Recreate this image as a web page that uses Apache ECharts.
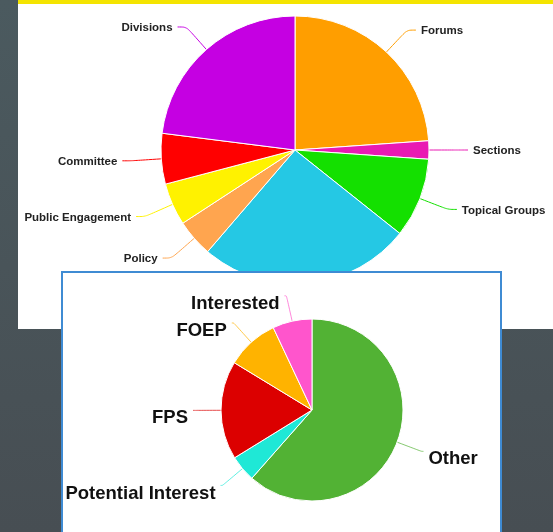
<!DOCTYPE html>
<html>
<head>
<meta charset="utf-8">
<script src="https://cdn.jsdelivr.net/npm/echarts@6/dist/echarts.min.js"></script>
<style>
  html, body { margin: 0; padding: 0; }
  body {
    width: 553px; height: 532px; overflow: hidden; position: relative;
    background: linear-gradient(to bottom, #4b5a5f, #474e53);
  }
  #topPanel {
    position: absolute; left: 18px; top: 0; width: 535px; height: 329px;
    background: #fff; border-top: 4px solid #f4e400; box-sizing: border-box;
  }
  #bottomPanel {
    position: absolute; left: 61px; top: 271px; width: 441px; height: 270px;
    background: #fff; border: 2px solid #3f8bd3; box-sizing: border-box;
  }
  .chart { width: 100%; height: 100%; }
</style>
</head>
<body>
<div id="topPanel"><div class="chart" id="unitsChart"></div></div>
<div id="bottomPanel"><div class="chart" id="membersChart"></div></div>
<script>
// top pie: unit types
var unitNames = ['Forums', 'Sections', 'Topical Groups', 'Other Units', 'Policy', 'Public Engagement', 'Committee', 'Divisions'];
var unitValues = [23.9, 2.2, 9.6, 25.6, 4.5, 5.1, 6.1, 23.0];
var unitColors = ['#ff9e00', '#e91ab3', '#14e000', '#25c8e4', '#ffa54f', '#fff200', '#ff0000', '#c500e2'];

// bottom pie: membership interest
var memberNames = ['Other', 'Potential Interest', 'FPS', 'FOEP', 'Interested'];
var memberValues = [61.5, 4.7, 17.5, 9.3, 7.0];
var memberColors = ['#52b234', '#1fe8d6', '#dc0000', '#ffb300', '#ff55cc'];

function buildData(names, values) {
  return names.map(function (n, i) { return { name: n, value: values[i] }; });
}

var unitsChart = echarts.init(document.getElementById('unitsChart'));
unitsChart.setOption({
  animation: false,
  color: unitColors,
  series: [{
    type: 'pie',
    startAngle: 90,
    clockwise: true,
    center: [277, 146],
    radius: 134,
    itemStyle: { borderColor: '#fff', borderWidth: 1 },
    label: {
      color: '#222',
      fontFamily: 'Liberation Sans, Arial, sans-serif',
      fontWeight: 'bold',
      fontSize: 11.5,
      overflow: 'none'
    },
    labelLine: { length: 30, length2: 9, smooth: 0.3, lineStyle: { width: 1 } },
    labelLayout: { dy: 1 },
    data: buildData(unitNames, unitValues)
  }]
});

var membersChart = echarts.init(document.getElementById('membersChart'));
membersChart.setOption({
  animation: false,
  color: memberColors,
  series: [{
    type: 'pie',
    startAngle: 90,
    clockwise: true,
    center: [249, 137],
    radius: 91,
    itemStyle: { borderColor: '#fff', borderWidth: 1 },
    label: {
      color: '#111',
      fontFamily: 'Liberation Sans, Arial, sans-serif',
      fontWeight: 'bold',
      fontSize: 18.5,
      overflow: 'none'
    },
    labelLine: { length: 26, length2: 2, smooth: 0.3, lineStyle: { width: 1, opacity: 0.7 } },
    labelLayout: { dy: 8 },
    data: buildData(memberNames, memberValues)
  }]
});
</script>
</body>
</html>
